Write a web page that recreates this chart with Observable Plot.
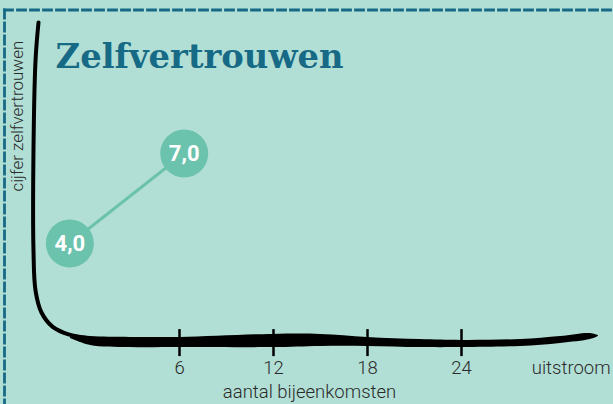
<!DOCTYPE html>
<html>
<head>
<meta charset="utf-8">
<script src="https://cdn.jsdelivr.net/npm/d3@7"></script>
<script src="https://cdn.jsdelivr.net/npm/@observablehq/plot@0.6"></script>
<style>
  html, body { margin: 0; padding: 0; background: #b2dfd5; }
  #chart { width: 613px; height: 404px; overflow: hidden; }
</style>
</head>
<body>
<div id="chart"></div>
<script>
// ---- data ----
const title = "Zelfvertrouwen";
const xLabel = "aantal bijeenkomsten";
const yLabel = "cijfer zelfvertrouwen";
const meetings = [-1, 6.3];          // moment (aantal bijeenkomsten)
const scores = [4.0, 7.0];           // cijfer zelfvertrouwen
const scoreLabels = ["4,0", "7,0"];
const tickValues = [6, 12, 18, 24];
const tickLabels = ["6", "12", "18", "24"];
const exitValue = 31;
const exitLabel = "uitstroom";

// hand-drawn axis stroke (data space)
const axisVX = [-3.0, -3.19, -3.32, -3.32, -3.19, -2.81, -2.11, -1.09, 0.32];
const axisVY = [11.37, 10.1, 7.1, 3.77, 2.43, 1.7, 1.23, 0.97, 0.83];
const bandX  = [-0.96, 0.32, 2.87, 6.06, 11.94, 15.0, 18.0, 21.38, 24.0, 27.77, 30.32, 32.23, 32.74];
const bandY1 = [0.97, 0.9, 0.87, 0.87, 0.97, 0.97, 0.87, 0.8, 0.77, 0.8, 0.9, 1.0, 0.93];
const bandY2 = [0.83, 0.6, 0.53, 0.53, 0.53, 0.57, 0.57, 0.53, 0.53, 0.57, 0.67, 0.8, 0.9];
const tickY1 = 0.23, tickY2 = 1.13;

// ---- tables ----
const points = meetings.map((m, i) => ({x: m, y: scores[i], label: scoreLabels[i]}));
const vStroke = axisVX.map((x, i) => ({x, y: axisVY[i]}));
const band = bandX.map((x, i) => ({x, y1: bandY1[i], y2: bandY2[i]}));
const xTicks = tickValues.map((v, i) => ({x: v, label: tickLabels[i]})).concat([{x: exitValue, label: exitLabel}]);

const teal = "#6bc2ad";
const blue = "#176a86";
const ink = "#2a2a2a";

const plot = Plot.plot({
  width: 613,
  height: 404,
  marginTop: 9.5,
  marginLeft: 4,
  marginRight: 0,
  marginBottom: 0,
  style: {background: "#b2dfd5", overflow: "visible"},
  x: {domain: [0, 24], range: [85, 461], axis: null},
  y: {domain: [4, 7], range: [243, 153], axis: null},
  marks: [
    Plot.frame({anchor: "top", stroke: blue, strokeWidth: 2.8, strokeDasharray: "8,5"}),
    Plot.frame({anchor: "left", stroke: blue, strokeWidth: 2.8, strokeDasharray: "8,5"}),
    Plot.line(vStroke, {x: "x", y: "y", curve: "catmull-rom", stroke: "black", strokeWidth: 4, strokeLinecap: "round"}),
    Plot.areaY(band, {x: "x", y1: "y1", y2: "y2", curve: "catmull-rom", fill: "black"}),
    Plot.ruleX(tickValues, {x: d => d, y1: tickY1, y2: tickY2, stroke: "black", strokeWidth: 2.5}),
    Plot.text(xTicks, {x: "x", text: "label", frameAnchor: "bottom", dy: -36, lineAnchor: "middle",
      fontFamily: "Roboto", fontWeight: 300, fontSize: 18.5, fill: ink}),
    Plot.text([xLabel], {text: d => d, frameAnchor: "bottom", dx: 0.5, dy: -12, lineAnchor: "middle",
      fontFamily: "Roboto", fontWeight: 300, fontSize: 18.5, fill: ink}),
    Plot.text([yLabel], {text: d => d, frameAnchor: "left", rotate: -90, dx: 13.5, dy: -15.75, lineAnchor: "middle",
      fontFamily: "Roboto", fontWeight: 300, fontSize: 17, fill: ink}),
    Plot.text([title], {text: d => d, frameAnchor: "top-left", textAnchor: "start", lineAnchor: "top", dx: 51, dy: 33.5,
      fontFamily: "DejaVu Serif", fontWeight: "bold", fontSize: 34, fill: blue}),
    Plot.line(points, {x: "x", y: "y", stroke: teal, strokeWidth: 3}),
    Plot.dot(points, {x: "x", y: "y", r: 24, fill: teal, stroke: "none"}),
    Plot.text(points, {x: "x", y: "y", text: "label", fill: "white", fontFamily: "Roboto", fontWeight: "bold", fontSize: 22, lineAnchor: "middle"})
  ]
});

document.getElementById("chart").appendChild(plot);

// squeeze title to reference width
d3.select(plot).selectAll("text").filter(function() { return this.textContent === title; })
  .attr("textLength", 288).attr("lengthAdjust", "spacingAndGlyphs");
</script>
</body>
</html>
